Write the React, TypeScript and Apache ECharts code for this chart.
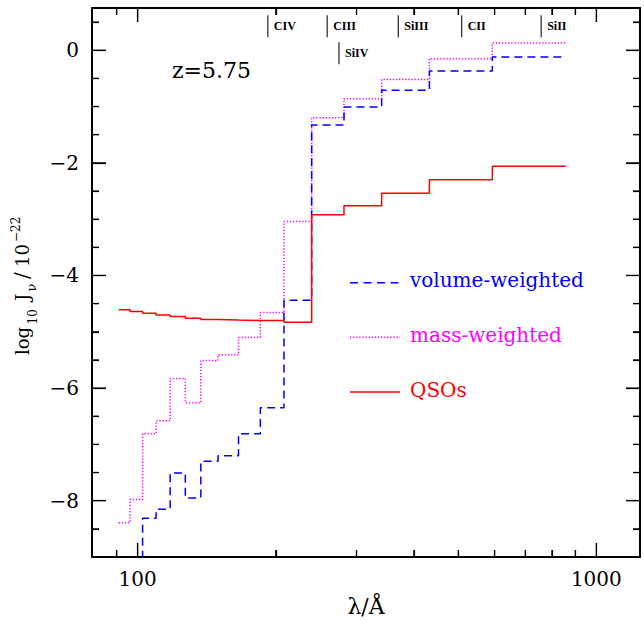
import React, { useEffect, useRef } from "react";
import * as echarts from "echarts";

// Bin edges in wavelength (Å)
const wavelengthEdges = [90.9, 96.25, 102.5, 109.7, 117.7, 127.0, 137.3, 149.7, 165.9, 185.1, 208.4, 239.5, 281.7, 340.3, 432.5, 593.2, 857.8];
// log10 J_nu / 1e-22 per bin
const volumeWeighted = [null, -9.5, -8.31, -8.15, -7.51, -7.95, -7.30, -7.20, -6.81, -6.35, -4.44, -1.33, -1.01, -0.71, -0.37, -0.12];
const massWeighted = [-8.39, -7.98, -6.81, -6.58, -5.83, -6.26, -5.51, -5.41, -5.10, -4.66, -3.04, -1.20, -0.86, -0.52, -0.15, 0.13];
const qsos = [-4.61, -4.64, -4.67, -4.70, -4.73, -4.76, -4.78, -4.79, -4.80, -4.80, -4.83, -2.92, -2.76, -2.54, -2.30, -2.06];

// Ionisation thresholds marked on top
const ionNames = ["CIV", "CIII", "SiIV", "SiIII", "CII", "SiII"];
const ionWavelengths = [192.2, 258.9, 274.7, 370.0, 508.5, 758.0];
const ionRows = [0, 0, 1, 0, 0, 0];

// Axis ticks
const xMajorTicks = [100, 1000];
const xMinorTicks = [90, 200, 300, 400, 500, 600, 700, 800, 900];
const yMajorTicks = [0, -2, -4, -6, -8];
const yMinorTicks = [0.5, -0.5, -1, -1.5, -2.5, -3, -3.5, -4.5, -5, -5.5, -6.5, -7, -7.5, -8.5];

const legendLabels = ["volume-weighted", "mass-weighted", "QSOs"];
const seriesColors = ["#0000ff", "#ff00ff", "#ff0000"];

const FONT = "DejaVu Serif";
const XMIN = 79.5, XMAX = 1245, YMIN = -9, YMAX = 0.75;

function stepData(values: (number | null)[]) {
  const pts: number[][] = [];
  values.forEach((v, i) => {
    if (v !== null) pts.push([wavelengthEdges[i], v]);
  });
  pts.push([wavelengthEdges[wavelengthEdges.length - 1], values[values.length - 1] as number]);
  return pts;
}

const fmtY = (v: number) => (v < 0 ? "\u2212" + Math.abs(v) : String(v));
const fmtX = (v: number) => String(Math.round(v));

export default function App() {
  const ref = useRef<HTMLDivElement>(null);
  useEffect(() => {
    if (!ref.current) return;
    const chart = echarts.init(ref.current, undefined, { renderer: "svg" });
    const tickStyle = { color: "#000", width: 1.2 };
    // x axes are kept at the frame by pointing onZero at a dummy y axis with no zero in range
    const xLine = (show: boolean) => ({ show, onZero: true, onZeroAxisIndex: 4, lineStyle: { color: "#000", width: 2 } });
    const yLine = (show: boolean) => ({ show, lineStyle: { color: "#000", width: 2 } });
    const xBase = (pos: string, major: boolean, withLabel: boolean) => ({
      type: "log",
      logBase: 10,
      gridIndex: 0,
      position: pos,
      min: XMIN,
      max: XMAX,
      axisLine: xLine(major),
      axisTick: { show: true, inside: true, length: major ? 14 : 7, customValues: major ? xMajorTicks : xMinorTicks, lineStyle: tickStyle },
      axisLabel: withLabel
        ? { show: true, customValues: xMajorTicks, color: "#000", fontFamily: FONT, fontSize: 20, margin: 12, formatter: fmtX }
        : { show: false },
      splitLine: { show: false },
      minorTick: { show: false },
    });
    const yBase = (pos: string, major: boolean, withLabel: boolean) => ({
      type: "value",
      gridIndex: 0,
      position: pos,
      min: YMIN,
      max: YMAX,
      axisLine: yLine(major),
      axisTick: { show: true, inside: true, length: major ? 14 : 7, customValues: major ? yMajorTicks : yMinorTicks, lineStyle: tickStyle },
      axisLabel: withLabel
        ? { show: true, customValues: yMajorTicks, color: "#000", fontFamily: FONT, fontSize: 20, margin: 13, formatter: fmtY }
        : { show: false },
      splitLine: { show: false },
      minorTick: { show: false },
    });

    const xAxes: any[] = [
      { ...xBase("bottom", true, true), name: "λ/Å", nameLocation: "middle", nameGap: 38, nameTextStyle: { color: "#000", fontFamily: FONT, fontSize: 22 } },
      xBase("bottom", false, false),
      xBase("top", true, false),
      xBase("top", false, false),
    ];
    const yAxes: any[] = [
      yBase("left", true, true),
      yBase("left", false, false),
      yBase("right", true, false),
      yBase("right", false, false),
      { type: "value", gridIndex: 0, min: 1, max: 2, show: false },
    ];

    const lineSeries = (name: string, vals: (number | null)[], color: string, dash: any, z: number) => ({
      type: "line",
      name,
      xAxisIndex: 0,
      yAxisIndex: 0,
      step: "end",
      symbol: "none",
      showSymbol: false,
      clip: true,
      z,
      data: stepData(vals),
      lineStyle: { color, width: 1.5, type: dash },
    });

    // tick marks also drawn as thin rectangle symbols at the frame, through the chart's scales
    const tickSeries = (data: number[][], size: number[], offset: number[]) => ({
      type: "scatter",
      xAxisIndex: 0,
      yAxisIndex: 0,
      silent: true,
      clip: false,
      z: 10,
      symbol: "rect",
      symbolSize: size,
      symbolOffset: offset,
      itemStyle: { color: "#000", opacity: 1 },
      emphasis: { disabled: true },
      data,
    });

    const txt = (text: string, fill: string, fontSize: number, extra: any = {}) => ({
      text,
      fill,
      fontSize,
      fontFamily: FONT,
      align: "left",
      verticalAlign: "middle",
      ...extra,
    });

    const legendY = [282.7, 337.3, 392];
    const legendDash: any[] = [[8, 5.5], [1.3, 1.8], null];
    const graphics: any[] = [];
    legendLabels.forEach((lab, i) => {
      graphics.push({
        type: "line",
        shape: { x1: 350, y1: legendY[i], x2: 400, y2: legendY[i] },
        style: { stroke: seriesColors[i], lineWidth: 1.5, lineDash: legendDash[i] || undefined },
      });
      graphics.push({
        type: "text",
        x: 410,
        y: legendY[i] - 2.3,
        style: txt(lab, seriesColors[i], 20),
      });
    });
    graphics.push({
      type: "text",
      x: 172,
      y: 70.4,
      style: txt("z=5.75", "#000", 22),
    });
    // rotated y-axis title
    const yTitleParts = [
      { t: "log", lx: 0, ly: 22.1, fs: 18 },
      { t: "10", lx: 30.5, ly: 33, fs: 12 },
      { t: "J", lx: 54, ly: 22.1, fs: 18 },
      { t: "ν", lx: 63.5, ly: 31.4, fs: 13 },
      { t: "/", lx: 76, ly: 22.1, fs: 20 },
      { t: "10", lx: 88, ly: 22.1, fs: 18 },
      { t: "\u221222", lx: 113, ly: 15.5, fs: 12 },
    ];
    graphics.push({
      type: "group",
      x: 0,
      y: 355,
      rotation: Math.PI / 2,
      children: yTitleParts.map((p) => ({
        type: "text",
        x: p.lx,
        y: p.ly,
        style: txt(p.t, "#000", p.fs),
      })),
    });

    chart.setOption({
      animation: false,
      backgroundColor: "#fff",
      grid: { left: 92, right: 4, top: 8, bottom: 63, containLabel: false, outerBoundsMode: "none" },
      xAxis: xAxes,
      yAxis: yAxes,
      series: [
        lineSeries("mass-weighted", massWeighted, seriesColors[1], [1.3, 1.8], 2),
        lineSeries("volume-weighted", volumeWeighted, seriesColors[0], [8, 5], 3),
        lineSeries("QSOs", qsos, seriesColors[2], "solid", 4),
        tickSeries(xMajorTicks.map((v) => [v, YMIN]), [1.2, 14], [0, -7]),
        tickSeries(xMinorTicks.map((v) => [v, YMIN]), [1.2, 7], [0, -3.5]),
        tickSeries(xMajorTicks.map((v) => [v, YMAX]), [1.2, 14], [0, 7]),
        tickSeries(xMinorTicks.map((v) => [v, YMAX]), [1.2, 7], [0, 3.5]),
        tickSeries(yMajorTicks.map((v) => [XMIN, v]), [14, 1.2], [7, 0]),
        tickSeries(yMinorTicks.map((v) => [XMIN, v]), [7, 1.2], [3.5, 0]),
        tickSeries(yMajorTicks.map((v) => [XMAX, v]), [14, 1.2], [-7, 0]),
        tickSeries(yMinorTicks.map((v) => [XMAX, v]), [7, 1.2], [-3.5, 0]),
        {
          // ion threshold markers
          type: "custom",
          xAxisIndex: 0,
          yAxisIndex: 0,
          z: 5,
          silent: true,
          data: ionWavelengths.map((w, i) => [w, ionRows[i]]),
          encode: { x: 0, y: 1 },
          renderItem: (params: any, api: any) => {
            const lam = api.value(0);
            const row = api.value(1);
            const top = api.coord([lam, row ? 0.14 : 0.62]);
            const bot = api.coord([lam, row ? -0.25 : 0.23]);
            return {
              type: "group",
              children: [
                { type: "line", shape: { x1: top[0], y1: top[1], x2: bot[0], y2: bot[1] }, style: { stroke: "#333", lineWidth: 1.3 } },
                {
                  type: "text",
                  x: top[0] + 6,
                  y: (top[1] + bot[1]) / 2,
                  style: {
                    text: ionNames[params.dataIndex],
                    fill: "#000",
                    fontSize: 12,
                    fontWeight: "bold",
                    fontFamily: "Liberation Serif",
                    align: "left",
                    verticalAlign: "middle",
                  },
                },
              ],
            };
          },
        },
      ],
      graphic: graphics,
    } as any);

    return () => chart.dispose();
  }, []);
  return <div ref={ref} style={{ position: "fixed", left: 0, top: 0, width: 644, height: 620, background: "#fff" }} />;
}
